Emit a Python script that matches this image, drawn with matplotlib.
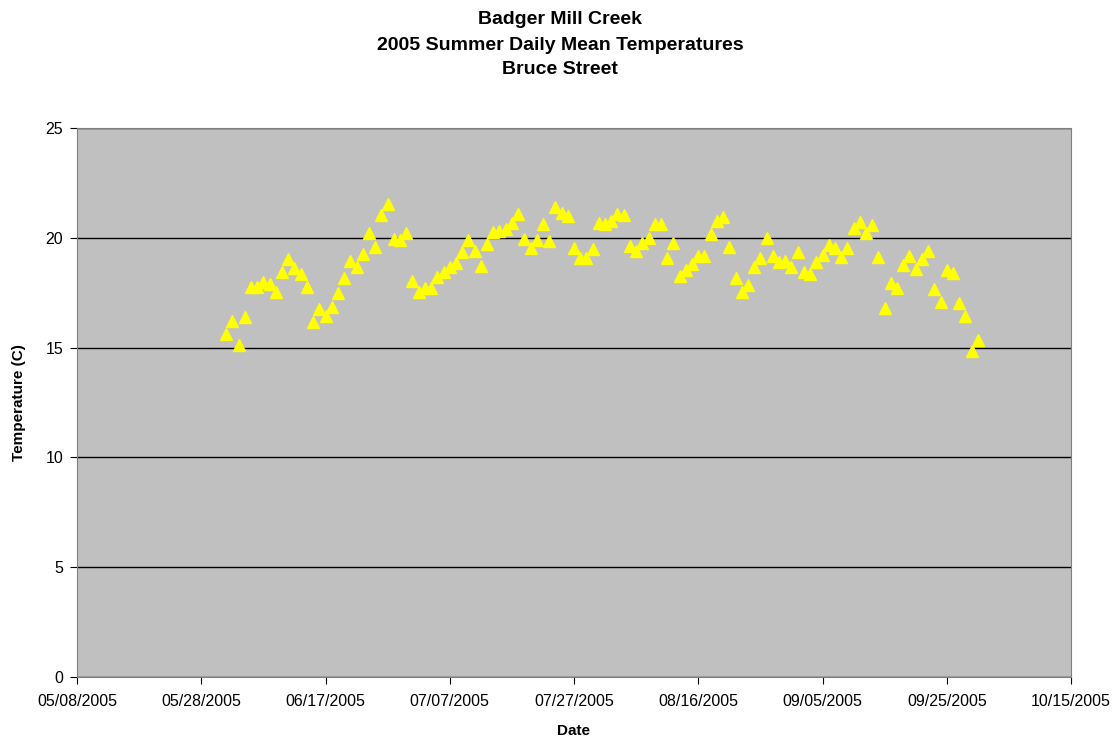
import datetime as dt

import matplotlib
matplotlib.use("Agg")
import matplotlib.pyplot as plt
import matplotlib.dates as mdates

plt.rcParams['font.family'] = ['Liberation Sans', 'DejaVu Sans']

# Daily mean water temperature (C), 06/01/2005 .. 09/30/2005
start_date = dt.date(2005, 6, 1)
temps = [
    15.62, 16.21, 15.12, 16.39, 17.76, 17.76, 17.99, 17.90, 17.53, 18.44,
    19.03, 18.63, 18.35, 17.76, 16.17, 16.76, 16.44, 16.85, 17.49, 18.17,
    18.94, 18.67, 19.26, 20.22, 19.58, 21.04, 21.54, 19.94, 19.90, 20.22,
    # July
    18.03, 17.55, 17.70, 17.70, 18.20, 18.44, 18.67, 18.85, 19.35, 19.90,
    19.40, 18.72, 19.72, 20.26, 20.31, 20.40, 20.67, 21.08, 19.94, 19.53,
    19.90, 20.63, 19.85, 21.40, 21.13, 20.99, 19.53, 19.08, 19.08, 19.49,
    20.67,
    # August
    20.63, 20.76, 21.08, 21.04, 19.63, 19.40, 19.76, 19.99, 20.63, 20.63,
    19.08, 19.76, 18.26, 18.53, 18.81, 19.17, 19.17, 20.17, 20.76, 20.95,
    19.58, 18.17, 17.55, 17.85, 18.67, 19.08, 19.99, 19.17, 18.90, 18.94,
    18.67,
    # September
    19.35, 18.44, 18.35, 18.90, 19.20, 19.67, 19.53, 19.13, 19.53, 20.45,
    20.70, 20.20, 20.60, 19.13, 16.80, 17.94, 17.70, 18.76, 19.17, 18.58,
    19.03, 19.40, 17.67, 17.08, 18.53, 18.40, 17.03, 16.44, 14.85, 15.35,
]
dates = [start_date + dt.timedelta(days=i) for i in range(len(temps))]

tick_dates = [dt.date(2005, 5, 8) + dt.timedelta(days=20 * i) for i in range(9)]
y_ticks = [0, 5, 10, 15, 20, 25]

fig = plt.figure(figsize=(11.2, 7.43), dpi=100)
ax = fig.add_axes([77 / 1120, 1 - 677 / 743, 994 / 1120, 549 / 743])
ax.set_facecolor('#c0c0c0')

ax.plot(dates, temps, linestyle='none', marker='^', markersize=8.5,
        color='#ffff00', markeredgecolor='#ffff00', zorder=3)

ax.set_xlim(tick_dates[0], tick_dates[-1])
ax.set_ylim(0, 25)
ax.set_xticks(tick_dates)
ax.xaxis.set_major_formatter(mdates.DateFormatter('%m/%d/%Y'))
ax.set_yticks(y_ticks)
ax.yaxis.grid(True, color='black', linewidth=1)
ax.set_axisbelow(True)

for side in ['left', 'bottom', 'right', 'top']:
    ax.spines[side].set_color('#808080')
ax.tick_params(direction='out', length=5, color='black', labelsize=11.5)
ax.tick_params(axis='x', pad=7)
ax.tick_params(axis='y', pad=5)

ax.set_xlabel('Date', fontsize=11, fontweight='bold', labelpad=11)
ax.set_ylabel('Temperature (C)', fontsize=11, fontweight='bold', labelpad=14)

fig.text(0.5, 1 - 19 / 743, 'Badger Mill Creek', ha='center', va='center',
         fontsize=14, fontweight='bold')
fig.text(0.5, 1 - 45 / 743, '2005 Summer Daily Mean Temperatures', ha='center',
         va='center', fontsize=14, fontweight='bold')
fig.text(0.5, 1 - 69 / 743, 'Bruce Street', ha='center', va='center',
         fontsize=14, fontweight='bold')

fig.savefig('out.png', dpi=100)
